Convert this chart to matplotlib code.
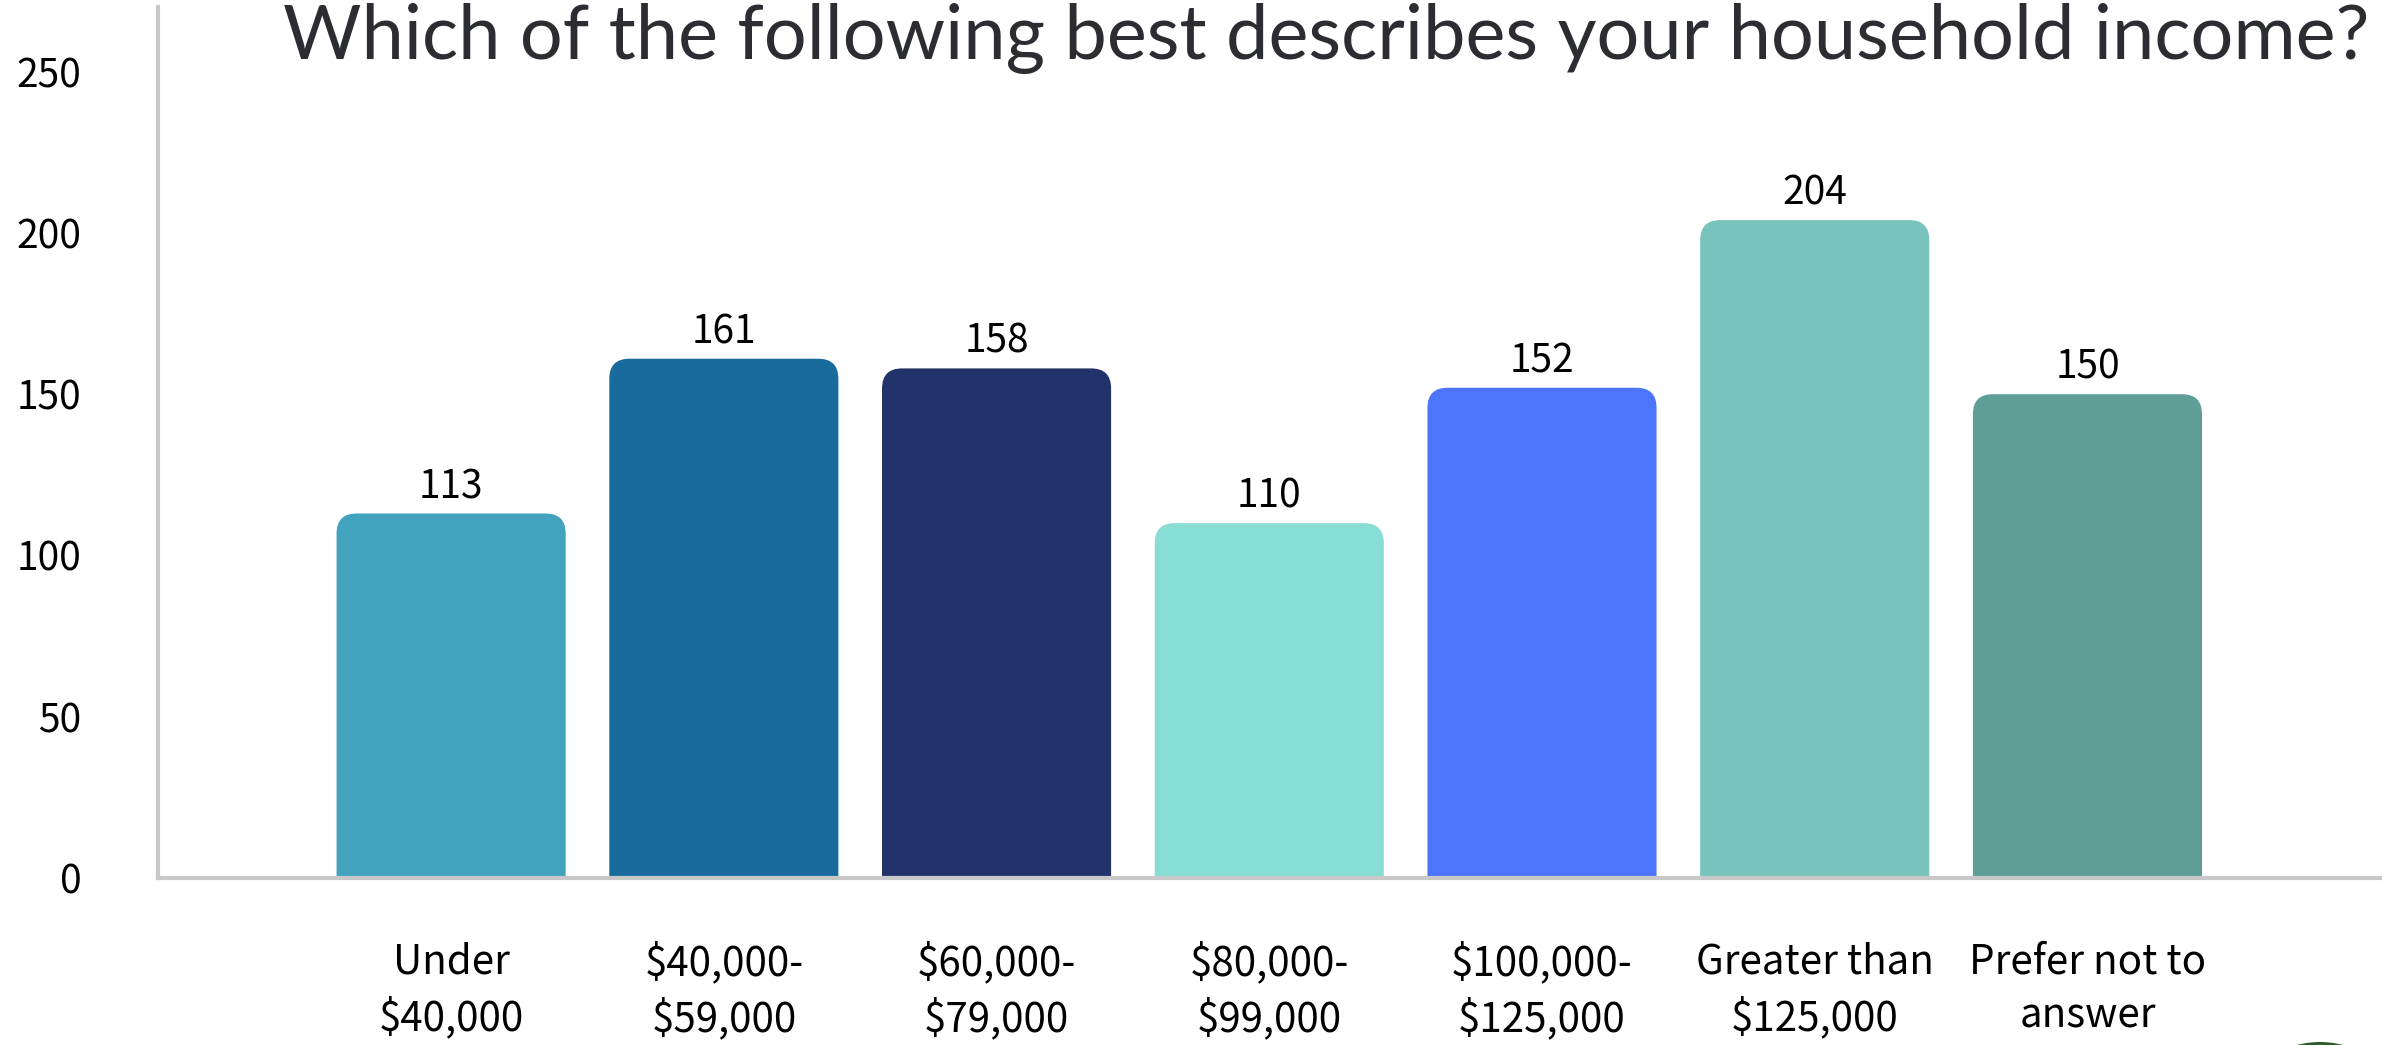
import numpy as np
import matplotlib
matplotlib.use("Agg")
import matplotlib.pyplot as plt
from matplotlib.path import Path
from matplotlib.patches import PathPatch, Ellipse

# data
categories = ["Under\n$40,000", "$40,000-\n$59,000", "$60,000-\n$79,000", "$80,000-\n$99,000",
              "$100,000-\n$125,000", "Greater than\n$125,000", "Prefer not to\nanswer"]
counts = [113, 161, 158, 110, 152, 204, 150]
colors = ["#41A3BD", "#1A6B9D", "#22336B", "#88DDD5", "#4C75FB", "#78C3BB", "#5F9E96"]
yticks = [0, 50, 100, 150, 200, 250]
title = "Which of the following best describes your household income?"

label_font = ["Noto Sans CJK SC", "DejaVu Sans"]
plt.rcParams['font.family'] = label_font

fig = plt.figure(figsize=(23.82, 10.45), dpi=100)
ax = fig.add_axes([0.0663, 0.160, 1 - 0.0663, 0.833])

x = np.arange(len(counts))
bars = ax.bar(x, counts, width=0.84, color=colors)
ax.set_xlim(-1.075, 7.08)
ax.set_ylim(0, 270)

# swap plain rectangles for bars with rounded tops
fig.canvas.draw()
r_px = 20
p0 = ax.transData.transform((0, 0))
p1 = ax.transData.transform((1, 1))
rx = r_px / (p1[0] - p0[0])
ry = r_px / (p1[1] - p0[1])
for b, c in zip(bars, colors):
    x0, y0, w, h = b.get_x(), b.get_y(), b.get_width(), b.get_height()
    top = y0 + h
    verts = [(x0, y0), (x0, top - ry), (x0, top), (x0 + rx, top),
             (x0 + w - rx, top), (x0 + w, top), (x0 + w, top - ry),
             (x0 + w, y0), (x0, y0)]
    codes = [Path.MOVETO, Path.LINETO, Path.CURVE3, Path.CURVE3,
             Path.LINETO, Path.CURVE3, Path.CURVE3, Path.LINETO, Path.CLOSEPOLY]
    ax.add_patch(PathPatch(Path(verts, codes), facecolor=c, edgecolor="none", zorder=2))
    b.set_visible(False)
    ax.text(x0 + w / 2, top + 2, str(int(h)), ha="center", va="bottom",
            fontsize=28, color="black")

for s in ["top", "right"]:
    ax.spines[s].set_visible(False)
for s in ["left", "bottom"]:
    ax.spines[s].set_color("#C8C8C8")
    ax.spines[s].set_linewidth(3)

ax.set_yticks(yticks)
ax.set_yticklabels([str(v) for v in yticks], fontsize=28)
ax.set_xticks(x)
ax.set_xticklabels(categories, fontsize=29, linespacing=1.4)
ax.tick_params(axis="y", length=0, pad=55)
ax.tick_params(axis="x", length=0, pad=46)

fig.text(0.119, 0.944, title, ha="left", va="baseline", fontsize=54.5,
         color="#2B2D33", family=["Lato", "DejaVu Sans"])

# corner of a logo cut off at bottom right
fig.patches.append(Ellipse((2320 / 2382, -87 / 1045), 180 / 2382, 180 / 1045,
                           transform=fig.transFigure, facecolor="#2E5A2A", edgecolor="none"))
fig.patches.append(Ellipse((2320 / 2382, -87 / 1045), 150 / 2382, 150 / 1045,
                           transform=fig.transFigure, facecolor="#C9B93A", edgecolor="none"))

fig.savefig("out.png", dpi=100)
